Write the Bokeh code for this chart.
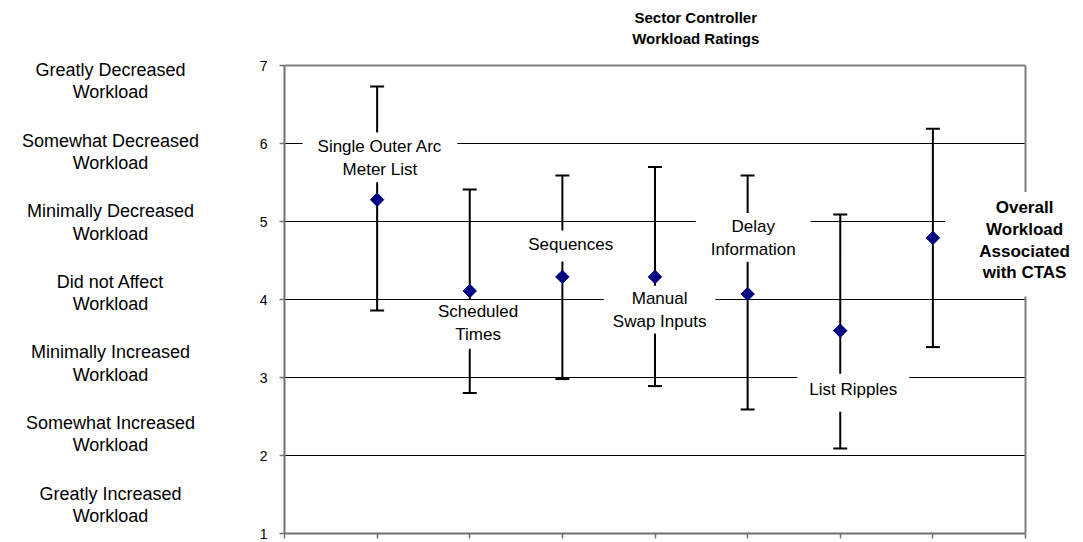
import numpy as np
from bokeh.plotting import figure
from bokeh.layouts import row
from bokeh.models import ColumnDataSource, Range1d, FixedTicker, Whisker, TeeHead, Label, Grid
from bokeh.embed import file_html
from bokeh.resources import INLINE

# ---- data ----
categories = ["Single Outer Arc\nMeter List", "Scheduled\nTimes", "Sequences",
              "Manual\nSwap Inputs", "Delay\nInformation", "List Ripples",
              "Overall\nWorkload\nAssociated\nwith CTAS"]
means = [5.28, 4.11, 4.29, 4.29, 4.07, 3.60, 4.79]
upper = [6.73, 5.41, 5.59, 5.70, 5.59, 5.09, 6.19]
lower = [3.86, 2.80, 2.98, 2.89, 2.59, 2.09, 3.39]
scale_ticks = [1, 2, 3, 4, 5, 6, 7]
scale_labels = ["Greatly Increased\nWorkload", "Somewhat Increased\nWorkload",
                "Minimally Increased\nWorkload", "Did not Affect\nWorkload",
                "Minimally Decreased\nWorkload", "Somewhat Decreased\nWorkload",
                "Greatly Decreased\nWorkload"]
title_text = "Sector Controller\nWorkload Ratings"

FONT = "Liberation Sans"
x = list(range(1, len(means) + 1))

# ---- layout constants (pixels) ----
W, H = 1083, 542
W_LEFT = 250              # width of the left description panel
FRAME_L, FRAME_R = 284, 1025
FRAME_T, FRAME_B = 65, 533
X_MAX, Y_MIN, Y_MAX = 8, 1, 7
px_x = (FRAME_R - FRAME_L) / X_MAX
px_y = (FRAME_B - FRAME_T) / (Y_MAX - Y_MIN)
y_top = Y_MAX + FRAME_T / px_y
y_bot_full = Y_MIN - (H - FRAME_B) / px_y
x_end = X_MAX + (W - FRAME_R) / px_x

p = figure(width=W - W_LEFT, height=H, output_backend="svg", toolbar_location=None,
           x_range=Range1d(0, x_end), y_range=Range1d(Y_MIN, y_top),
           min_border_left=FRAME_L - W_LEFT, min_border_right=0,
           min_border_top=0, min_border_bottom=H - FRAME_B)
p.outline_line_color = None

# axes (bottom axis: tick marks only, no labels)
p.xaxis.ticker = FixedTicker(ticks=list(range(0, X_MAX + 1)))
p.xaxis.major_label_text_color = None
p.xaxis.major_label_text_font_size = "10px"
p.xaxis.major_label_standoff = -40
p.xaxis.bounds = (0, X_MAX)
p.yaxis.ticker = FixedTicker(ticks=scale_ticks)
p.yaxis.bounds = (Y_MIN, Y_MAX)
for ax in (p.xaxis[0], p.yaxis[0]):
    ax.axis_line_color = "#707070"
    ax.axis_line_width = 2
    ax.major_tick_line_color = "#707070"
    ax.major_tick_line_width = 1.5
    ax.major_tick_out = 5
    ax.major_tick_in = 0
    ax.minor_tick_line_color = None
p.yaxis.major_label_text_font = FONT
p.yaxis.major_label_text_font_size = "14px"
p.yaxis.major_label_text_color = "black"
p.yaxis.major_label_standoff = 12

# grid lines and frame borders, limited to the data area
p.xgrid.visible = False
grid_ticks = scale_ticks[1:-1]
p.ygrid.ticker = FixedTicker(ticks=grid_ticks)
p.ygrid.grid_line_color = "black"
p.ygrid.grid_line_width = 1
top_b = Grid(dimension=1, ticker=FixedTicker(ticks=[Y_MAX]),
             grid_line_color="#808080", grid_line_width=2)
right_b = Grid(dimension=0, ticker=FixedTicker(ticks=[X_MAX]),
               grid_line_color="#808080", grid_line_width=2)
try:
    p.ygrid.cross_bounds = (0, X_MAX)
    top_b.cross_bounds = (0, X_MAX)
    right_b.cross_bounds = (Y_MIN, Y_MAX)
    p.add_layout(top_b)
    p.add_layout(right_b)
except Exception:
    p.ygrid.visible = False
    p.segment(x0=0, x1=X_MAX, y0=grid_ticks, y1=grid_ticks, line_color="black", line_width=1)
    p.segment(x0=[0, X_MAX], x1=[X_MAX, X_MAX], y0=[Y_MAX, Y_MIN], y1=[Y_MAX, Y_MAX],
              line_color="#808080", line_width=2)

src = ColumnDataSource(dict(x=x, mean=means, upper=upper, lower=lower))
wh = Whisker(source=src, base="x", upper="upper", lower="lower", dimension="height",
             line_color="black", line_width=2,
             upper_head=TeeHead(size=14, line_color="black", line_width=2),
             lower_head=TeeHead(size=14, line_color="black", line_width=2))
p.add_layout(wh)

p.scatter("x", "mean", source=src, marker="square", angle=np.pi / 4, size=9.5,
          fill_color="#000080", line_color="#000080")

# category labels: text centre (data units) and box paddings (px)
label_x = [1.03, 2.09, 3.09, 4.05, 5.06, 6.14, 7.99]
label_y = [5.81, 3.70, 4.71, 3.87, 4.79, 2.85, 4.76]
label_pad = [dict(left=15, right=15, top=5, bottom=3),
             dict(left=16, right=16, top=2, bottom=5),
             dict(left=8, right=8, top=4, bottom=8),
             dict(left=9, right=9, top=3, bottom=3),
             dict(left=15, right=15, top=4, bottom=3),
             dict(left=12, right=12, top=6, bottom=13),
             dict(left=34, right=10, top=6, bottom=14)]
for i, txt in enumerate(categories):
    last = i == len(categories) - 1
    pad = label_pad[i]
    bx = label_x[i] - (pad["left"] - pad["right"]) / 2 / px_x
    by = label_y[i] - (pad["bottom"] - pad["top"]) / 2 / px_y
    lab = Label(x=bx, y=by, text=txt,
                text_align="center", text_baseline="middle",
                text_font=FONT, text_font_size="17px",
                text_font_style="bold" if last else "normal",
                text_line_height=1.15 if last else 1.2,
                text_color="black", background_fill_color="white",
                padding=pad)
    p.add_layout(lab)

# title
p.add_layout(Label(x=4.44, y=7.48, text=title_text, text_align="center", text_baseline="middle",
                   text_font=FONT, text_font_size="15px", text_font_style="bold",
                   text_line_height=1.25, text_color="black"))

# ---- left panel: rating scale descriptions ----
left = figure(width=W_LEFT, height=H, output_backend="svg", toolbar_location=None,
              x_range=Range1d(0, W_LEFT), y_range=Range1d(y_bot_full, y_top),
              x_axis_type=None, y_axis_type=None,
              min_border_left=0, min_border_right=0, min_border_top=0, min_border_bottom=0)
left.outline_line_color = None
left.grid.visible = False

desc_y = np.linspace(1.26, 6.78, len(scale_labels))
for yy, txt in zip(desc_y, scale_labels):
    left.add_layout(Label(x=110, y=yy, text=txt, text_align="center", text_baseline="middle",
                          text_font=FONT, text_font_size="18px", text_line_height=1.11,
                          text_color="black"))

open("out.html", "w").write(file_html(row(left, p), INLINE))
